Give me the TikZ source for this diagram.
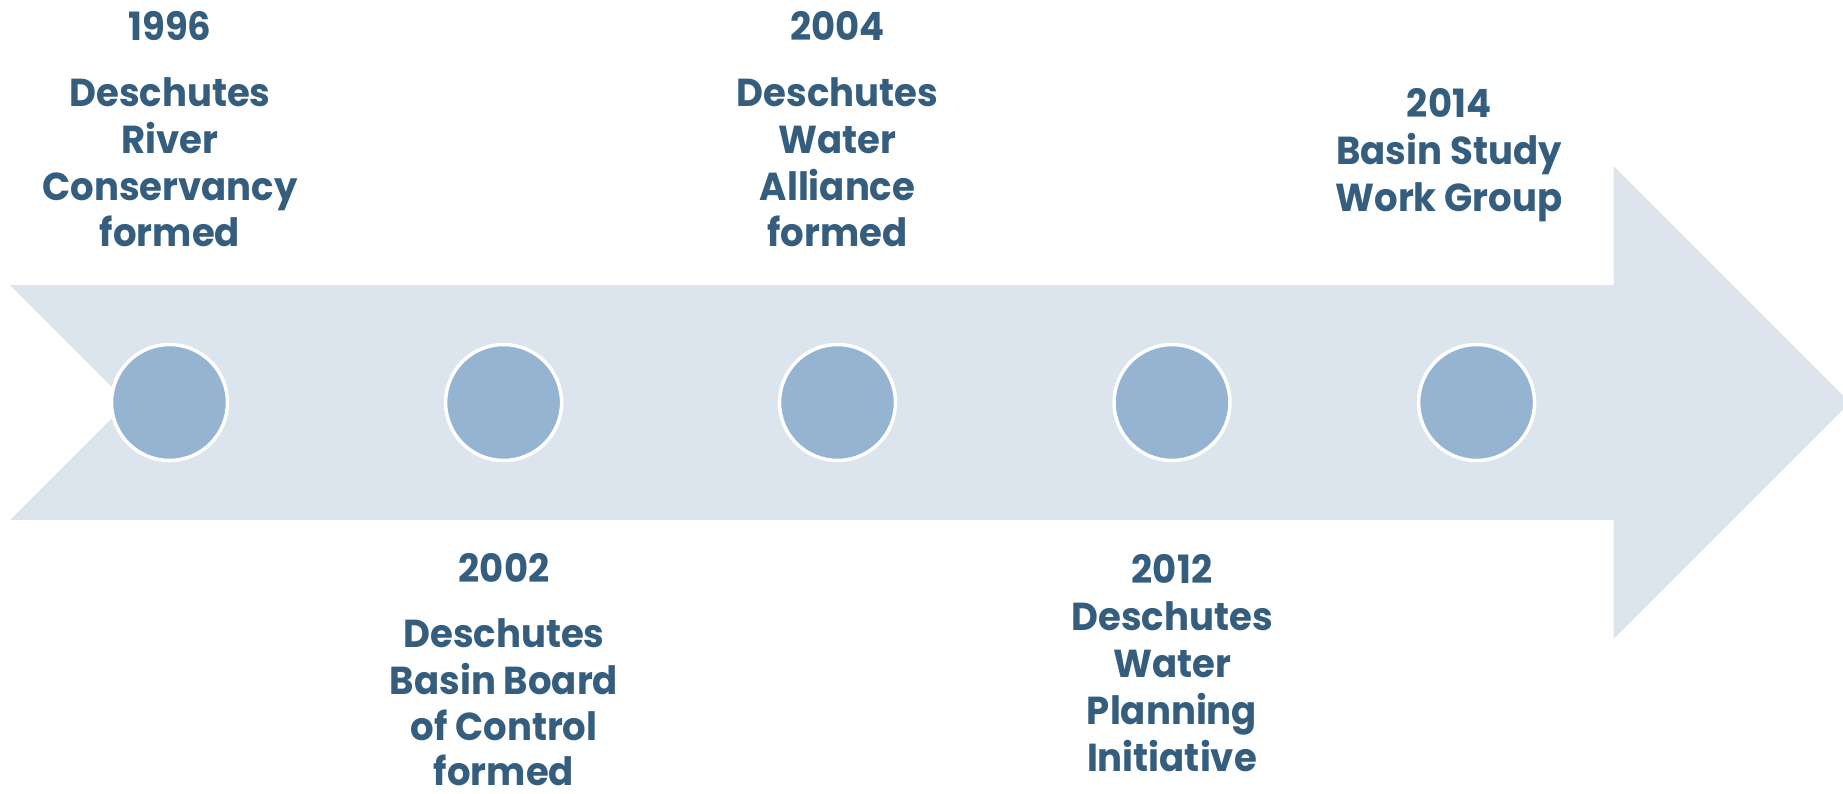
\documentclass[tikz,border=0pt]{standalone}
\usepackage{fontspec}
\setmainfont{Poppins}
\definecolor{bandc}{HTML}{DCE4EE}
\definecolor{dotc}{HTML}{95B4D2}
\definecolor{txtc}{HTML}{355D7E}
\begin{document}
\begin{tikzpicture}[x=0.5pt,y=-0.5pt,
  lbl/.style={font=\bfseries\fontsize{19.5}{23}\selectfont\addfontfeature{FakeStretch=0.95}, text=txtc, anchor=base, inner sep=0pt},
  dot/.style={circle, fill=dotc, draw=white, line width=1.75pt, inner sep=0pt, minimum size=58pt}]
\useasboundingbox (0,0) rectangle (1843,793);
% arrow band
\fill[bandc] (10,285) -- (1613.5,285) -- (1613.5,166) -- (1850,402.5) -- (1613.5,639) -- (1613.5,520) -- (10,520) -- (127.5,402.5) -- cycle;
% milestones
\node[dot] (c1) at (169.5,402.5) {};
\node[dot] (c2) at (503.6,402.5) {};
\node[dot] (c3) at (837.5,402.5) {};
\node[dot] (c4) at (1172,402.5) {};
\node[dot] (c5) at (1476.6,402.5) {};
% 1996
\node[lbl] (a0) at (170,40.7) {1996};
\node[lbl] (a1) at (170,106.7) {Deschutes};
\node[lbl] (a2) at (170,153.3) {River};
\node[lbl] (a3) at (170,200) {Conservancy};
\node[lbl] (a4) at (170,246.7) {formed};
% 2002
\node[lbl] (b0) at (504,582) {2002};
\node[lbl] (b1) at (504,647) {Deschutes};
\node[lbl] (b2) at (504,694) {Basin Board};
\node[lbl] (b3) at (504,740.5) {of Control};
\node[lbl] (b4) at (504,785) {formed};
% 2004
\node[lbl] (d0) at (837.5,40.7) {2004};
\node[lbl] (d1) at (837.5,106.7) {Deschutes};
\node[lbl] (d2) at (837.5,153.3) {Water};
\node[lbl] (d3) at (837.5,200) {Alliance};
\node[lbl] (d4) at (837.5,246.7) {formed};
% 2012
\node[lbl] (e0) at (1172,583.3) {2012};
\node[lbl] (e1) at (1172,630.7) {Deschutes};
\node[lbl] (e2) at (1172,677.3) {Water};
\node[lbl] (e3) at (1172,724) {Planning};
\node[lbl] (e4) at (1172,771.7) {Initiative};
% 2014
\node[lbl] (f0) at (1449,117) {2014};
\node[lbl] (f1) at (1449,164) {Basin Study};
\node[lbl] (f2) at (1449,211) {Work Group};
\end{tikzpicture}
\end{document}
